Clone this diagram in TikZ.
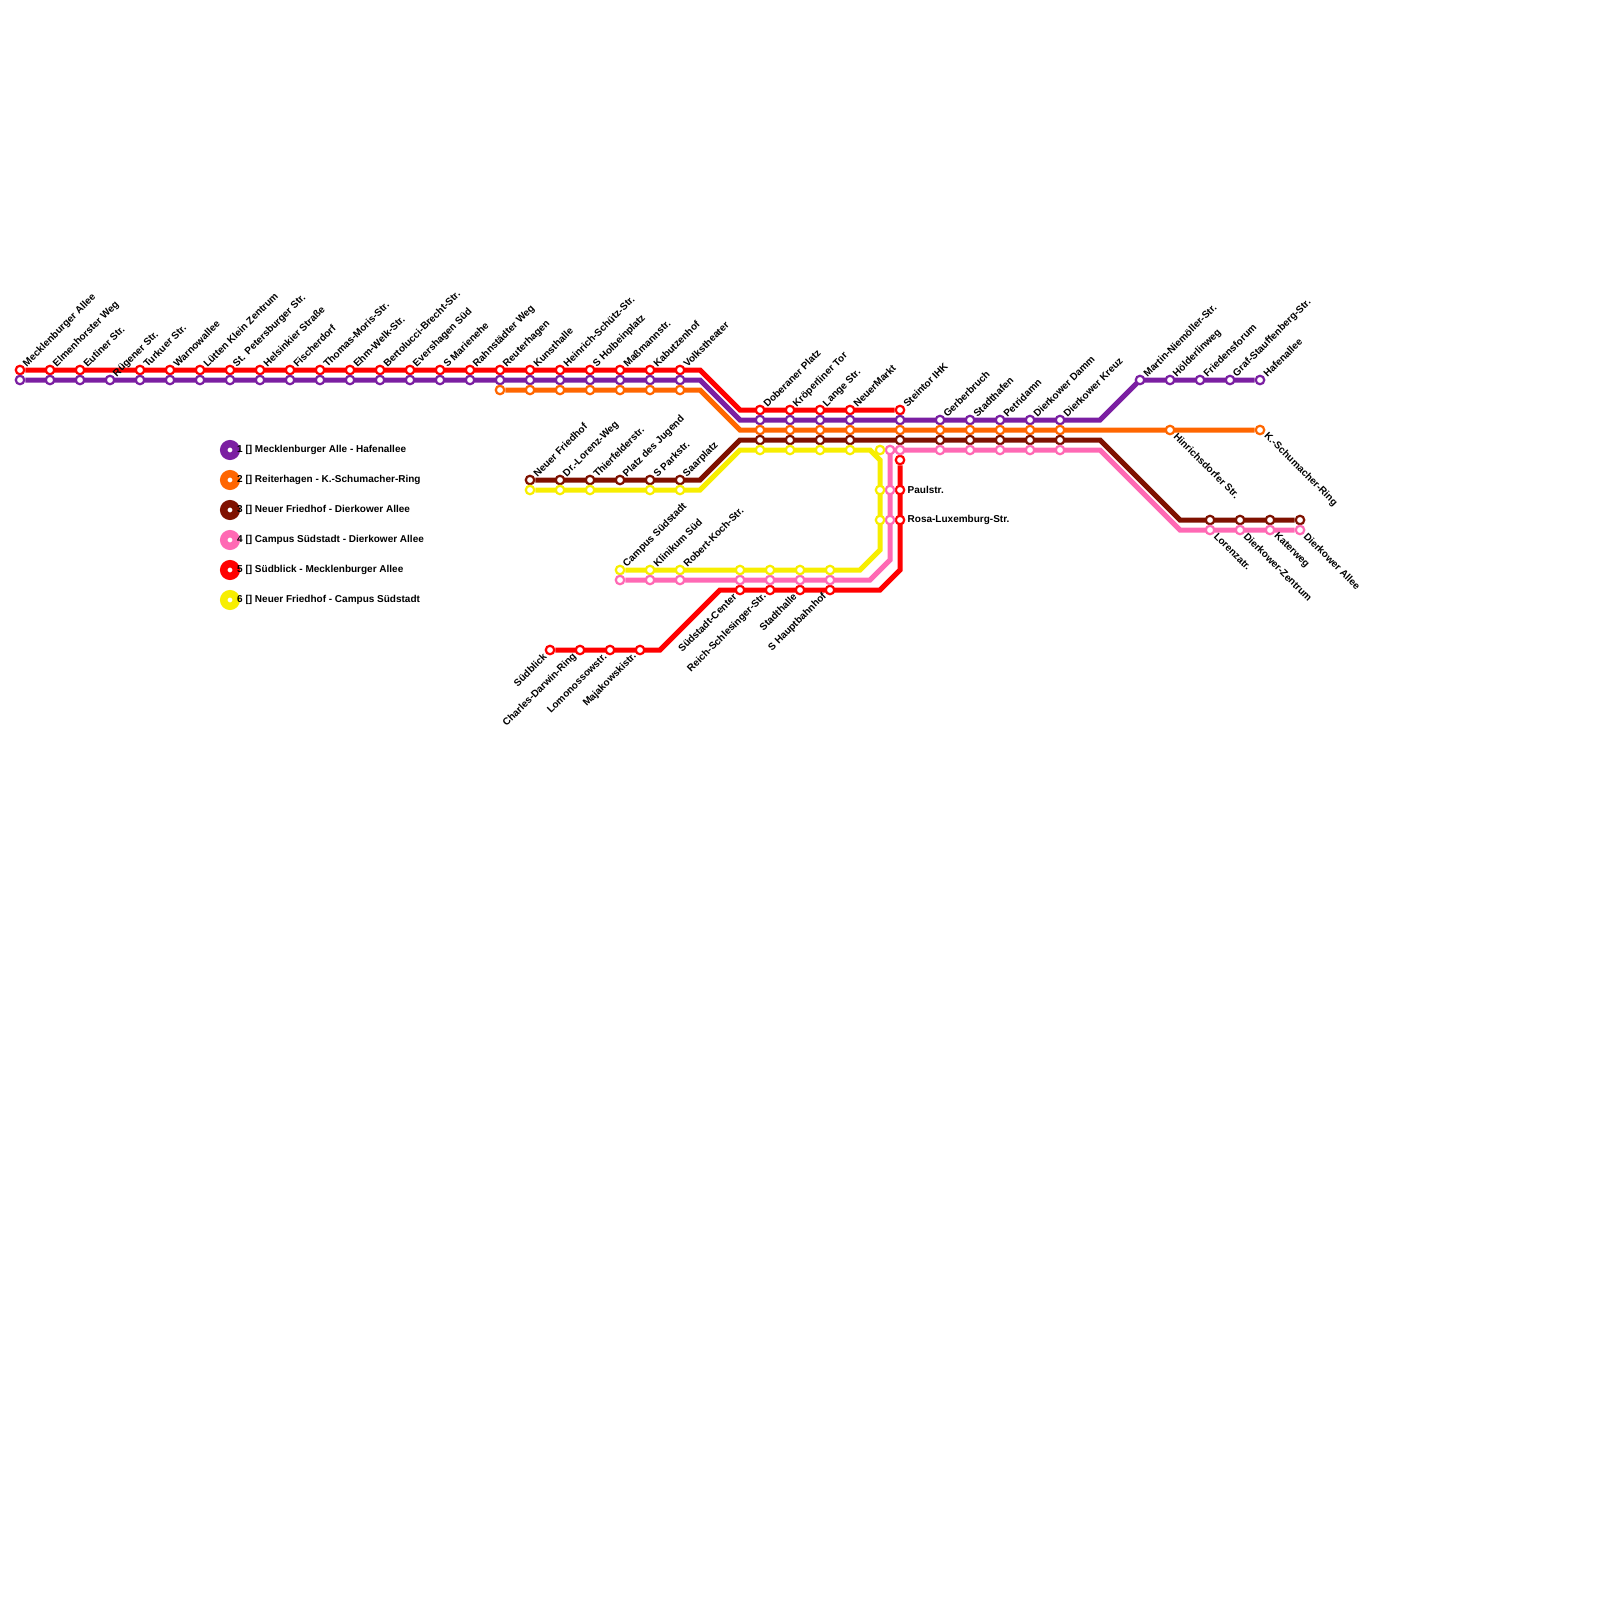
\documentclass[tikz,border=0pt]{standalone}
\usepackage{fontspec}
\setmainfont{Liberation Sans}
\usetikzlibrary{backgrounds}
\definecolor{linepurple}{HTML}{7B1FA2}
\definecolor{lineorange}{HTML}{FF6600}
\definecolor{linebrown}{HTML}{7F1100}
\definecolor{linepink}{HTML}{FF69B4}
\definecolor{linered}{HTML}{FF0000}
\definecolor{lineyellow}{HTML}{F7EE00}
\tikzset{
  route/.style={draw=#1,line width=5pt,line join=miter},
  stop/.style={circle,draw=#1,fill=white,line width=2.2pt,inner sep=0pt,minimum size=8.5pt},
  name text/.style={font=\bfseries\fontsize{10}{12}\selectfont,inner sep=0pt,text=black},
  up label/.style={name text,rotate=45,anchor=west},
  down label/.style={name text,rotate=-45,anchor=west},
  left label/.style={name text,rotate=45,anchor=east},
  side label/.style={name text,anchor=west},
  legend dot/.style={circle,draw=#1,fill=white,line width=7.5pt,inner sep=0pt,minimum size=12.5pt}
}

\begin{document}
\begin{tikzpicture}[x=1pt,y=-1pt]
  \useasboundingbox (0,0) rectangle (1600,1600);
  % bends
  \coordinate (redbend1) at (700,370);
  \coordinate (redbend2) at (740,410);
  \coordinate (southbend1) at (660,650);
  \coordinate (southbend2) at (720,590);
  \coordinate (southbend3) at (880,590);
  \coordinate (southbend4) at (900,570);
  \coordinate (purplebend1) at (700,380);
  \coordinate (purplebend2) at (740,420);
  \coordinate (purplebend3) at (1100,420);
  \coordinate (purplebend4) at (1140,380);
  \coordinate (orangebend1) at (700,390);
  \coordinate (orangebend2) at (740,430);
  \coordinate (brownbend1) at (700,480);
  \coordinate (brownbend2) at (740,440);
  \coordinate (brownbend3) at (1100,440);
  \coordinate (brownbend4) at (1180,520);
  \coordinate (pinkbend1) at (870,580);
  \coordinate (pinkbend2) at (890,560);
  \coordinate (pinkbend3) at (890,450);
  \coordinate (pinkbend4) at (1100,450);
  \coordinate (pinkbend5) at (1180,530);
  \coordinate (yellowbend1) at (700,490);
  \coordinate (yellowbend2) at (740,450);
  \coordinate (yellowbend3) at (870,450);
  \coordinate (yellowbend4) at (880,460);
  \coordinate (yellowbend5) at (880,550);
  \coordinate (yellowbend6) at (860,570);
  % stations
  \foreach \sx/\sname [count=\i] in {20/Mecklenburger Allee,50/Elmenhorster Weg,80/Eutiner Str.,140/Turkuer Str.,170/Warnowallee,200/Lütten Klein Zentrum,230/St. Petersburger Str.,260/Helsinkier Straße,290/Fischerdorf,320/Thomas-Moris-Str.,350/Ehm-Welk-Str.,380/Bertolucci-Brecht-Str.,410/Evershagen Süd,440/S Marienehe,470/Rahnstädter Weg,500/Reuterhagen,530/Kunsthalle,560/Heinrich-Schütz-Str.,590/S Holbeinplatz,620/Maßmannstr.,650/Kabutzenhof,680/Volkstheater} {
    \node[stop=linered] (redwest\i) at (\sx,370) {};
    \node[up label] (redwestname\i) at ([shift={(5,-4.5)}]redwest\i.center) {\sname};
  }
  \foreach \sx/\sname [count=\i] in {760/Doberaner Platz,790/Kröperliner Tor,820/Lange Str.,850/NeuerMarkt,900/Steintor IHK} {
    \node[stop=linered] (redmid\i) at (\sx,410) {};
    \node[up label] (redmidname\i) at ([shift={(5,-4.5)}]redmid\i.center) {\sname};
  }
  \foreach \sx/\sname [count=\i] in {550/Südblick,580/Charles-Darwin-Ring,610/Lomonossowstr.,640/Majakowskistr.} {
    \node[stop=linered] (redsouth\i) at (\sx,650) {};
    \node[left label] (redsouthname\i) at ([shift={(-5,5)}]redsouth\i.center) {\sname};
  }
  \foreach \sx/\sname [count=\i] in {740/Südstadt-Center,770/Reich-Schlesinger-Str.,800/Stadthalle,830/S Hauptbahnhof} {
    \node[stop=linered] (redcity\i) at (\sx,590) {};
    \node[left label] (redcityname\i) at ([shift={(-5,5)}]redcity\i.center) {\sname};
  }
  \node[stop=linered] (redtop) at (900,460) {};
  \node[stop=linered] (redpaul) at (900,490) {};
  \node[stop=linered] (redrosa) at (900,520) {};
  \node[side label] (paulname) at (907.5,489.5) {Paulstr.};
  \node[side label] (rosaname) at (907.5,519.5) {Rosa-Luxemburg-Str.};
  \foreach \sx [count=\i] in {20,50,...,680} \node[stop=linepurple] (purplewest\i) at (\sx,380) {};
  \node[up label] (ruegenname) at ([shift={(5,-4.5)}]purplewest4.center) {Rügener Str.};
  \foreach \sx [count=\i] in {760,790,820,850,900} \node[stop=linepurple] (purplemid\i) at (\sx,420) {};
  \foreach \sx/\sname [count=\i] in {940/Gerberbruch,970/Stadthafen,1000/Petridamn,1030/Dierkower Damm,1060/Dierkower Kreuz} {
    \node[stop=linepurple] (purpleeast\i) at (\sx,420) {};
    \node[up label] (purpleeastname\i) at ([shift={(5,-4.5)}]purpleeast\i.center) {\sname};
  }
  \foreach \sx/\sname [count=\i] in {1140/Martin-Niemöller-Str.,1170/Hölderlinweg,1200/Friedensforum,1230/Graf-Stauffenberg-Str.,1260/Hafenallee} {
    \node[stop=linepurple] (purplefar\i) at (\sx,380) {};
    \node[up label] (purplefarname\i) at ([shift={(5,-4.5)}]purplefar\i.center) {\sname};
  }
  \foreach \sx [count=\i] in {500,530,...,680} \node[stop=lineorange] (orangewest\i) at (\sx,390) {};
  \foreach \sx [count=\i] in {760,790,820,850,900,940,970,1000,1030,1060} \node[stop=lineorange] (orangemid\i) at (\sx,430) {};
  \node[stop=lineorange] (orangehin) at (1170,430) {};
  \node[stop=lineorange] (orangeend) at (1260,430) {};
  \node[down label] (hinname) at ([shift={(5.5,4.5)}]orangehin.center) {Hinrichsdorfer Str.};
  \node[down label] (kurtname) at ([shift={(5.5,4.5)}]orangeend.center) {K.-Schumacher-Ring};
  \foreach \sx/\sname [count=\i] in {530/Neuer Friedhof,560/Dr.-Lorenz-Weg,590/Thierfelderstr.,620/Platz des Jugend,650/S Parkstr.,680/Saarplatz} {
    \node[stop=linebrown] (brownwest\i) at (\sx,480) {};
    \node[up label] (brownwestname\i) at ([shift={(5,-4.5)}]brownwest\i.center) {\sname};
  }
  \foreach \sx [count=\i] in {760,790,820,850,900,940,970,1000,1030,1060} \node[stop=linebrown] (brownmid\i) at (\sx,440) {};
  \foreach \sx [count=\i] in {1210,1240,1270,1300} \node[stop=linebrown] (browneast\i) at (\sx,520) {};
  \foreach \sx/\sname [count=\i] in {620/Campus Südstadt,650/Klinikum Süd,680/Robert-Koch-Str.} {
    \node[stop=lineyellow] (yellowsouth\i) at (\sx,570) {};
    \node[up label] (yellowsouthname\i) at ([shift={(5,-4.5)}]yellowsouth\i.center) {\sname};
    \node[stop=linepink] (pinksouth\i) at (\sx,580) {};
  }
  \foreach \sx [count=\i] in {740,770,800,830} {
    \node[stop=linepink] (pinkcity\i) at (\sx,580) {};
    \node[stop=lineyellow] (yellowcity\i) at (\sx,570) {};
  }
  \node[stop=linepink] (pinkrosa) at (890,520) {};
  \node[stop=linepink] (pinkpaul) at (890,490) {};
  \node[stop=linepink] (pinktop) at (890,450) {};
  \foreach \sx [count=\i] in {900,940,970,1000,1030,1060} \node[stop=linepink] (pinkmid\i) at (\sx,450) {};
  \foreach \sx/\sname [count=\i] in {1210/Lorenzatr.,1240/Dierkower-Zentrum,1270/Katerweg,1300/Dierkower Allee} {
    \node[stop=linepink] (pinkeast\i) at (\sx,530) {};
    \node[down label] (pinkeastname\i) at ([shift={(5.5,4.5)}]pinkeast\i.center) {\sname};
  }
  \foreach \sx [count=\i] in {530,560,590,650,680} \node[stop=lineyellow] (yellowwest\i) at (\sx,490) {};
  \foreach \sx [count=\i] in {760,790,820,850,880} \node[stop=lineyellow] (yellowmid\i) at (\sx,450) {};
  \node[stop=lineyellow] (yellowpaul) at (880,490) {};
  \node[stop=lineyellow] (yellowrosa) at (880,520) {};
  % lines
  \begin{scope}[on background layer]
    \draw[route=linered] (redwest1) -- (redbend1) -- (redbend2) -- (redmid5);
    \draw[route=linered] (redsouth1) -- (southbend1) -- (southbend2) -- (southbend3) -- (southbend4) -- (redtop);
    \draw[route=linepurple] (purplewest1) -- (purplebend1) -- (purplebend2) -- (purplebend3) -- (purplebend4) -- (purplefar5);
    \draw[route=lineorange] (orangewest1) -- (orangebend1) -- (orangebend2) -- (orangeend);
    \draw[route=linebrown] (brownwest1) -- (brownbend1) -- (brownbend2) -- (brownbend3) -- (brownbend4) -- (browneast4);
    \draw[route=linepink] (pinksouth1) -- (pinkbend1) -- (pinkbend2) -- (pinkbend3) -- (pinkbend4) -- (pinkbend5) -- (pinkeast4);
    \draw[route=lineyellow] (yellowwest1) -- (yellowbend1) -- (yellowbend2) -- (yellowbend3) -- (yellowbend4) -- (yellowbend5) -- (yellowbend6) -- (yellowsouth1);
  \end{scope}
  % legend
  \foreach \lcol/\ltext [count=\i] in {linepurple/Mecklenburger Alle - Hafenallee,lineorange/Reiterhagen - K.-Schumacher-Ring,linebrown/Neuer Friedhof - Dierkower Allee,linepink/Campus Südstadt - Dierkower Allee,linered/Südblick - Mecklenburger Allee,lineyellow/Neuer Friedhof - Campus Südstadt} {
    \node[legend dot=\lcol] (legenddot\i) at (230,420+30*\i) {};
    \node[side label] (legendname\i) at (237,420+30*\i) {\i\ [] \ltext};
  }
\end{tikzpicture}
\end{document}
